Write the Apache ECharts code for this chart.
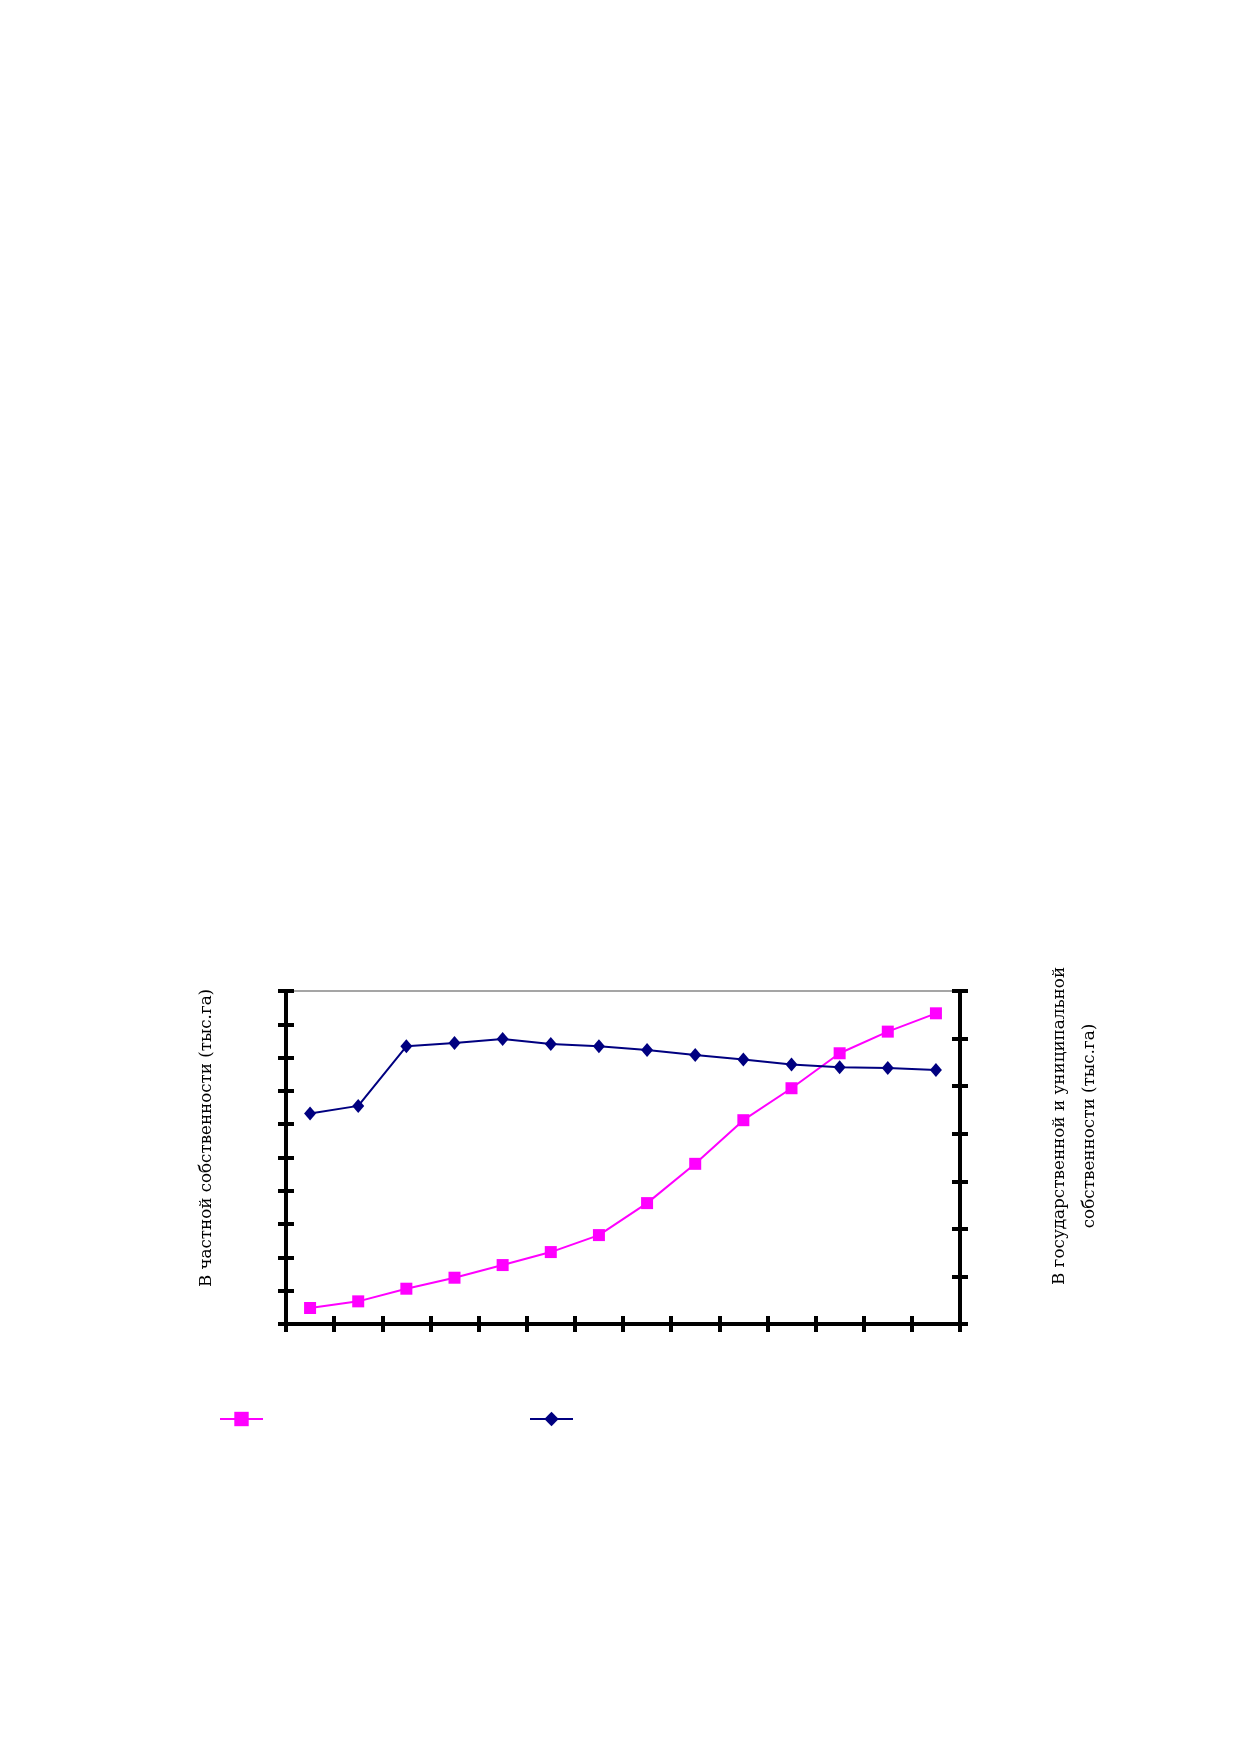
<!DOCTYPE html>
<html>
<head>
<meta charset="utf-8">
<script src="https://cdn.jsdelivr.net/npm/echarts@6/dist/echarts.min.js"></script>
<style>
  html, body { margin: 0; padding: 0; background: #fff; }
  #chart { width: 1239px; height: 1754px; }
</style>
</head>
<body>
<div id="chart"></div>
<script>
// 14 periods, no labels printed on the axes
const categories = ["1", "2", "3", "4", "5", "6", "7", "8", "9", "10", "11", "12", "13", "14"];
// private ownership (left axis)
const privateArea = [48, 68, 106, 139, 177, 216, 267, 363, 481, 612, 708, 813, 878, 933];
// state and municipal ownership (right axis)
const stateArea = [4424, 4585, 5838, 5908, 5992, 5887, 5838, 5761, 5656, 5558, 5453, 5397, 5383, 5341];

const leftTitle = "В частной собственности (тыс.га)";
const rightTitle = "В государственной и униципальной\nсобственности (тыс.га)";

const chart = echarts.init(document.getElementById("chart"));

const axisLine = { show: true, lineStyle: { color: "#000", width: 4 } };
const tickOut = { show: true, inside: false, length: 8, lineStyle: { color: "#000", width: 4 } };
const tickIn = { show: true, inside: true, length: 8, lineStyle: { color: "#000", width: 4 } };

const option = {
  animation: false,
  backgroundColor: "#fff",
  grid: {
    left: 286, right: 279, top: 991, bottom: 430,
    show: true, borderColor: "#888", borderWidth: 1.5
  },
  xAxis: [
    { type: "category", data: categories, boundaryGap: true, position: "bottom",
      axisLine: axisLine, axisTick: tickOut, axisLabel: { show: false }, splitLine: { show: false } },
    { type: "category", data: categories, boundaryGap: true, position: "bottom",
      axisLine: axisLine, axisTick: tickIn, axisLabel: { show: false }, splitLine: { show: false } }
  ],
  yAxis: [
    { type: "value", min: 0, max: 1000, interval: 100, position: "left",
      axisLine: axisLine, axisTick: tickOut, axisLabel: { show: false }, splitLine: { show: false } },
    { type: "value", min: 0, max: 1000, interval: 100, position: "left",
      axisLine: axisLine, axisTick: tickIn, axisLabel: { show: false }, splitLine: { show: false } },
    { type: "value", min: 0, max: 7000, interval: 1000, position: "right",
      axisLine: axisLine, axisTick: tickOut, axisLabel: { show: false }, splitLine: { show: false } },
    { type: "value", min: 0, max: 7000, interval: 1000, position: "right",
      axisLine: axisLine, axisTick: tickIn, axisLabel: { show: false }, splitLine: { show: false } }
  ],
  legend: {
    left: 214, top: 1405,
    itemWidth: 43, itemHeight: 18, itemGap: 265,
    formatter: function () { return ""; },
    data: ["private", "state"]
  },
  series: [
    {
      name: "private", type: "line", data: privateArea,
      xAxisIndex: 0, yAxisIndex: 0,
      symbol: "rect", symbolSize: 12,
      lineStyle: { color: "#ff00ff", width: 2 },
      itemStyle: { color: "#ff00ff" }
    },
    {
      name: "state", type: "line", data: stateArea,
      xAxisIndex: 0, yAxisIndex: 2,
      symbol: "diamond", symbolSize: [12, 14],
      lineStyle: { color: "#000080", width: 2 },
      itemStyle: { color: "#000080" }
    }
  ],
  graphic: [
    { type: "text", x: 207, y: 1138, rotation: Math.PI / 2,
      style: { text: leftTitle, font: "16.7px 'DejaVu Serif'", fill: "#000",
        align: "center", verticalAlign: "middle" } },
    { type: "text", x: 1075, y: 1126, rotation: Math.PI / 2,
      style: { text: rightTitle, font: "16.8px 'DejaVu Serif'", fill: "#000",
        align: "center", verticalAlign: "middle", lineHeight: 30 } }
  ]
};

chart.setOption(option);
</script>
</body>
</html>
